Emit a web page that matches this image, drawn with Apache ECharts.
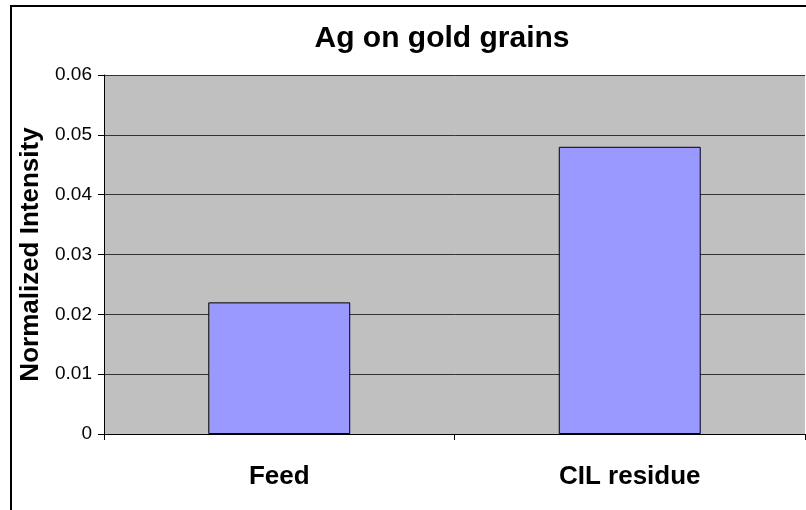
<!DOCTYPE html>
<html>
<head>
<meta charset="utf-8">
<script src="https://cdn.jsdelivr.net/npm/echarts@6/dist/echarts.min.js"></script>
<style>
    html, body { margin: 0; padding: 0; background: #fff; }
    #chart { width: 806px; height: 510px; }
</style>
</head>
<body>
<div id="chart"></div>
<script>
var categories = ['Feed', 'CIL residue'];
var agValues = [0.022, 0.048];
var yTicks = { min: 0, max: 0.06, step: 0.01 };

var myChart = echarts.init(document.getElementById('chart'));

var font = 'Liberation Sans, Arial, sans-serif';

var option = {
    animation: false,
    textStyle: { fontFamily: font },
    title: {
        text: 'Ag on gold grains',
        left: 437,
        top: 19,
        textAlign: 'center',
        textStyle: { fontFamily: font, fontSize: 30, fontWeight: 'bold', color: '#000' }
    },
    graphic: [{
        type: 'rect',
        z: -1,
        shape: { x: 11, y: 6, width: 1000, height: 1000 },
        style: { fill: 'none', stroke: '#000', lineWidth: 2 }
    }],
    grid: {
        left: 104,
        top: 75,
        right: 1,
        bottom: 76,
        show: true,
        backgroundColor: '#C0C0C0',
        borderWidth: 0
    },
    xAxis: {
        type: 'category',
        data: categories,
        axisLine: { lineStyle: { color: '#000', width: 1 } },
        axisTick: { show: true, length: 6, lineStyle: { color: '#000' } },
        axisLabel: {
            margin: 30,
            fontSize: 26,
            fontWeight: 'bold',
            color: '#000',
            fontFamily: font
        }
    },
    yAxis: {
        type: 'value',
        min: yTicks.min,
        max: yTicks.max,
        interval: yTicks.step,
        name: 'Normalized Intensity',
        nameLocation: 'middle',
        nameGap: 56,
        nameTextStyle: { fontSize: 26, fontWeight: 'bold', color: '#000', fontFamily: font },
        axisLine: { show: true, lineStyle: { color: '#000', width: 1 } },
        axisTick: { show: true, length: 6, lineStyle: { color: '#000' } },
        axisLabel: {
            margin: 12,
            fontSize: 19,
            color: '#000',
            fontFamily: font
        },
        splitLine: { show: true, lineStyle: { color: '#333', width: 1 } }
    },
    series: [{
        name: 'Ag',
        type: 'bar',
        barWidth: '40.5%',
        data: agValues,
        itemStyle: { color: '#9999FF', borderColor: '#000', borderWidth: 1 }
    }]
};

myChart.setOption(option);
</script>
</body>
</html>
